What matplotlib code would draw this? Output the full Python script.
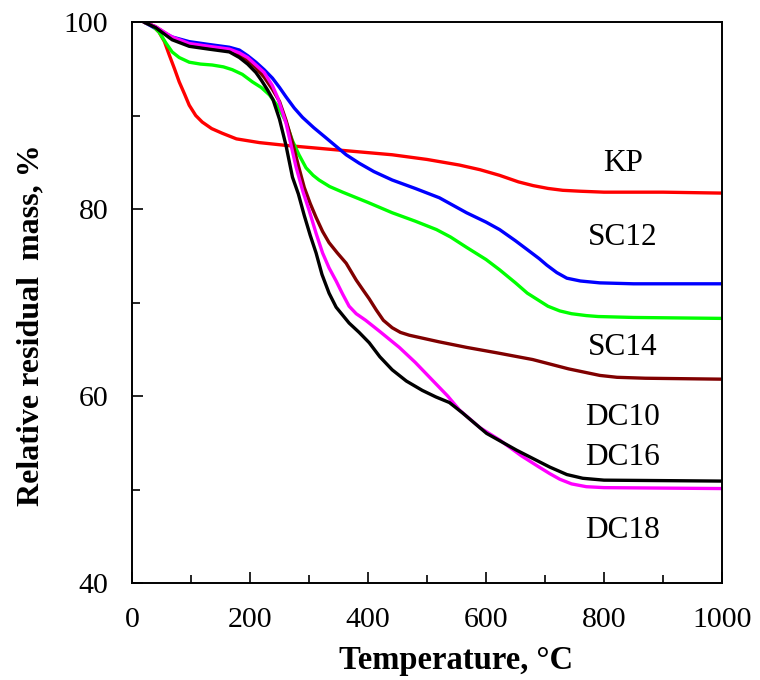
import matplotlib
matplotlib.use("Agg")
import matplotlib.pyplot as plt
from matplotlib.ticker import MultipleLocator

plt.rcParams['font.family'] = ['Liberation Serif', 'DejaVu Serif']

kp_x = [20, 35, 46, 55, 63, 72, 80, 89, 97, 108, 119, 135, 153, 177, 216, 261, 351, 441, 500, 555, 590, 623, 655, 680, 705, 730, 760, 800, 900, 1000]
kp_y = [100, 99.6, 98.9, 97.9, 96.5, 95.0, 93.6, 92.3, 91.1, 90.0, 89.3, 88.6, 88.1, 87.5, 87.1, 86.8, 86.3, 85.8, 85.3, 84.7, 84.2, 83.6, 82.9, 82.5, 82.2, 82.0, 81.9, 81.8, 81.8, 81.7]

sc12_x = [20, 40, 68, 97, 130, 165, 182, 196, 210, 224, 238, 250, 261, 275, 289, 308, 329, 346, 363, 385, 410, 441, 480, 521, 567, 600, 623, 650, 669, 690, 703, 720, 737, 760, 793, 850, 1000]
sc12_y = [100, 99.3, 98.4, 97.9, 97.6, 97.3, 97.0, 96.4, 95.7, 94.9, 94.0, 93.0, 92.0, 90.8, 89.8, 88.7, 87.6, 86.7, 85.8, 84.9, 84.0, 83.1, 82.2, 81.2, 79.6, 78.6, 77.8, 76.6, 75.7, 74.7, 74.0, 73.2, 72.6, 72.3, 72.1, 72.0, 72.0]

sc14_x = [20, 35, 46, 57, 68, 80, 97, 116, 136, 155, 170, 187, 204, 219, 233, 247, 261, 272, 283, 295, 307, 317, 335, 357, 400, 441, 480, 516, 540, 567, 600, 623, 650, 670, 705, 725, 745, 770, 790, 850, 1000]
sc14_y = [100, 99.6, 98.9, 97.8, 96.8, 96.2, 95.7, 95.5, 95.4, 95.2, 94.9, 94.4, 93.6, 93.0, 92.2, 91.0, 89.3, 87.3, 85.8, 84.4, 83.6, 83.1, 82.4, 81.8, 80.7, 79.6, 78.7, 77.8, 77.0, 75.9, 74.6, 73.5, 72.1, 71.0, 69.6, 69.1, 68.8, 68.6, 68.5, 68.4, 68.3]

dc10_x = [20, 40, 68, 97, 130, 165, 182, 196, 210, 224, 238, 250, 261, 272, 283, 292, 302, 312, 323, 334, 348, 363, 380, 392, 402, 414, 426, 441, 455, 470, 520, 567, 620, 679, 740, 793, 822, 870, 1000]
dc10_y = [100, 99.5, 98.3, 97.6, 97.3, 97.0, 96.5, 95.9, 95.1, 94.1, 92.8, 91.5, 89.5, 87.1, 84.4, 82.3, 80.6, 79.1, 77.6, 76.4, 75.3, 74.2, 72.4, 71.3, 70.4, 69.2, 68.1, 67.3, 66.8, 66.5, 65.8, 65.2, 64.6, 63.9, 62.9, 62.2, 62.0, 61.9, 61.8]

dc16_x = [20, 40, 68, 97, 130, 165, 182, 196, 210, 220, 230, 239, 250, 261, 272, 282, 292, 302, 312, 322, 334, 346, 368, 385, 402, 420, 441, 465, 492, 515, 538, 560, 601, 652, 708, 737, 764, 800, 1000]
dc16_y = [100, 99.4, 98.1, 97.4, 97.1, 96.8, 96.2, 95.5, 94.6, 93.7, 92.7, 91.7, 89.6, 86.8, 83.4, 81.6, 79.3, 77.2, 75.3, 73.0, 71.0, 69.5, 67.8, 66.8, 65.7, 64.2, 62.8, 61.6, 60.6, 59.9, 59.3, 58.2, 56.0, 54.2, 52.4, 51.6, 51.2, 51.0, 50.9]

dc18_x = [20, 40, 68, 97, 130, 165, 182, 196, 210, 224, 238, 247, 261, 278, 290, 300, 312, 323, 334, 346, 357, 368, 380, 396, 420, 453, 480, 509, 535, 555, 590, 623, 660, 690, 708, 725, 745, 770, 800, 1000]
dc18_y = [100, 99.5, 98.4, 97.7, 97.4, 97.1, 96.7, 96.2, 95.4, 94.6, 93.2, 91.9, 89.2, 84.5, 81.8, 79.9, 77.4, 75.3, 73.7, 72.3, 70.9, 69.6, 68.8, 68.1, 66.9, 65.2, 63.6, 61.7, 60.0, 58.5, 56.6, 55.3, 53.6, 52.4, 51.7, 51.1, 50.6, 50.3, 50.2, 50.1]

series = [
    (kp_x, kp_y, '#ff0000'),
    (sc12_x, sc12_y, '#0000ff'),
    (sc14_x, sc14_y, '#00ff00'),
    (dc10_x, dc10_y, '#800000'),
    (dc18_x, dc18_y, '#ff00ff'),
    (dc16_x, dc16_y, '#000000'),
]

labels = ['KP', 'SC12', 'SC14', 'DC10', 'DC16', 'DC18']
label_x = 832
label_y = [84.9, 76.9, 65.2, 57.7, 53.4, 45.6]

fig = plt.figure(figsize=(7.6, 6.8), dpi=100)
ax = fig.add_axes([132 / 760, 1 - 583 / 680, 590 / 760, 561 / 680])

for x, y, c in series:
    ax.plot(x, y, color=c, lw=2.4, solid_capstyle='round', solid_joinstyle='round')

for lab, ly in zip(labels, label_y):
    ax.text(label_x, ly, lab, fontsize=22.5, ha='center', va='center')

ax.set_xlim(0, 1000)
ax.set_ylim(40, 100)
ax.xaxis.set_major_locator(MultipleLocator(200))
ax.xaxis.set_minor_locator(MultipleLocator(100))
ax.yaxis.set_major_locator(MultipleLocator(20))
ax.yaxis.set_minor_locator(MultipleLocator(10))
ax.tick_params(which='both', direction='in', top=False, right=False, labelsize=21.5, width=1.2)
ax.tick_params(which='major', length=8)
ax.tick_params(which='minor', length=6)
ax.tick_params(axis='x', pad=17)
ax.tick_params(axis='y', pad=17)
for s in ax.spines.values():
    s.set_linewidth(1.4)

ax.set_xlabel('Temperature, °C', fontsize=23.5, fontweight='bold')
ax.set_ylabel('Relative residual  mass, %', fontsize=23, fontweight='bold')
ax.xaxis.set_label_coords((456 - 132) / 590, -0.11)
ax.yaxis.set_label_coords((45 - 132) / 590, (583 - 325) / 561)

fig.savefig('out.png', dpi=100)
